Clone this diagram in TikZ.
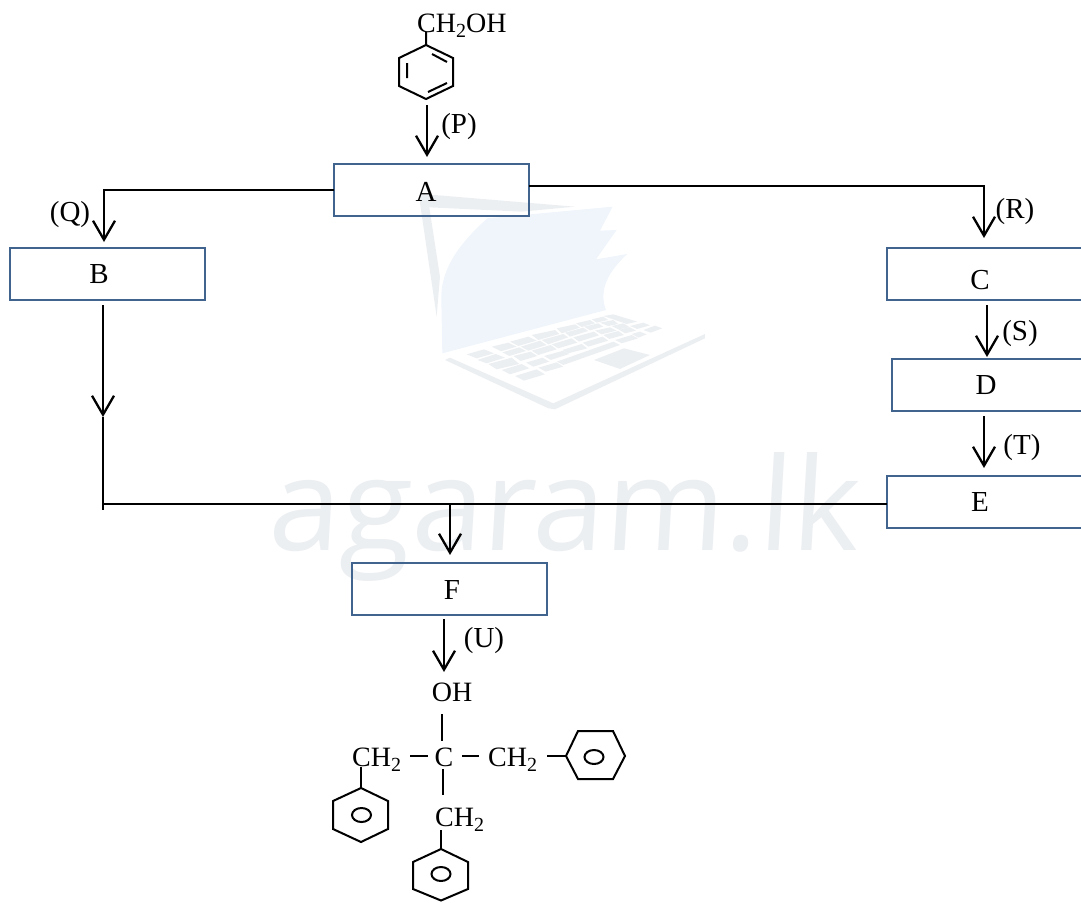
\documentclass[tikz,border=0pt]{standalone}
\usepackage{fontspec}
\setmainfont{Liberation Serif}
\newfontfamily\wmfont[FakeSlant=0.06]{Open Sans}
\usetikzlibrary{arrows.meta}
\definecolor{boxblue}{HTML}{41648F}
\definecolor{wmgray}{HTML}{ECEFF2}
\definecolor{wmblue}{HTML}{EFF5FB}
\newcommand{\subtwo}{\raisebox{-5pt}{\fontsize{20}{20}\selectfont 2}}
\tikzset{
  rxbox/.style={draw=boxblue,line width=2pt,minimum width=195pt,minimum height=52pt,inner sep=0pt,outer sep=0pt},
  lbl/.style={font=\fontsize{29}{32}\selectfont,inner sep=0pt,text=black},
  mol/.style={font=\fontsize{28}{32}\selectfont,inner sep=0pt,text=black},
  conn/.style={line width=2.3pt,draw=black},
  arr/.style={conn,-{Straight Barb[length=19pt,width=22pt,line width=2.3pt]}},
  bond/.style={line width=2pt,draw=black},
  ring/.style={line width=2pt,draw=black,line join=miter},
}
\begin{document}
\begin{tikzpicture}[x=1pt,y=-1pt]
\useasboundingbox (0,0) rectangle (1081,902);
% watermark
\node[inner sep=0pt,text=wmgray,font=\wmfont\fontsize{129}{150}\selectfont,anchor=base] (wm) at (563,550) {agaram.lk};
\begin{scope}[shift={(400,190)},x=0.3333pt,y=-0.3333pt]
\fill[wmblue] (262,85) -- (638,50) -- (600,122) -- (650,120) -- (588,208) -- (682,192) .. controls (625,245) and (595,300) .. (618,360) -- (127,490) -- (124,330) .. controls (120,230) and (190,150) .. cycle;
\fill[wmgray] (105,15) -- (525,50) -- (365,65) -- (88,52) -- (120,260) -- (110,380) -- (60,40) -- (60,15) -- cycle;
\fill[wmgray] (135,510) -- (150,503) -- (460,640) -- (915,432) -- (915,445) -- (465,658) -- (445,655) -- cycle;
\fill[wmgray] (582,510) -- (672,475) -- (750,495) -- (660,537) -- cycle;
\foreach \p in {
 {(200,493) -- (252,478) -- (282,490) -- (230,505)},
 {(275,470) -- (325,458) -- (350,470) -- (303,484)},
 {(330,455) -- (385,440) -- (410,452) -- (355,468)},
 {(395,435) -- (465,420) -- (478,432) -- (415,450)},
 {(470,415) -- (525,403) -- (540,413) -- (485,430)},
 {(528,400) -- (570,390) -- (585,400) -- (545,411)},
 {(575,388) -- (610,380) -- (625,390) -- (590,398)},
 {(610,378) -- (640,373) -- (712,395) -- (680,402)},
 {(232,510) -- (287,492) -- (315,503) -- (260,520)},
 {(307,487) -- (358,472) -- (378,483) -- (328,498)},
 {(362,470) -- (420,452) -- (440,465) -- (385,482)},
 {(425,450) -- (490,432) -- (505,442) -- (445,463)},
 {(495,428) -- (550,413) -- (565,423) -- (510,440)},
 {(552,410) -- (595,400) -- (610,410) -- (570,421)},
 {(600,398) -- (640,390) -- (655,402) -- (625,408)},
 {(265,522) -- (335,503) -- (358,522) -- (290,538)},
 {(340,498) -- (392,485) -- (412,498) -- (362,513)},
 {(395,482) -- (452,465) -- (470,478) -- (415,495)},
 {(455,463) -- (515,445) -- (532,458) -- (475,475)},
 {(520,442) -- (582,425) -- (597,436) -- (537,455)},
 {(585,422) -- (630,412) -- (650,422) -- (605,433)},
 {(635,408) -- (670,400) -- (690,412) -- (655,418)},
 {(305,540) -- (365,522) -- (388,535) -- (330,553)},
 {(378,518) -- (428,503) -- (448,515) -- (400,530)},
 {(432,498) -- (490,482) -- (508,492) -- (452,510)},
 {(487,480) -- (545,462) -- (562,475) -- (505,490)},
 {(548,458) -- (608,440) -- (625,452) -- (565,470)},
 {(610,435) -- (655,423) -- (672,435) -- (628,447)},
 {(655,418) -- (690,412) -- (708,422) -- (675,430)},
 {(690,408) -- (730,398) -- (750,406) -- (712,417)},
 {(345,558) -- (410,538) -- (435,553) -- (372,572)},
 {(415,533) -- (470,517) -- (490,530) -- (437,545)},
 {(470,515) -- (640,455) -- (660,465) -- (490,525)},
 {(645,450) -- (695,435) -- (715,445) -- (665,460)},
 {(695,432) -- (720,425) -- (740,433) -- (715,443)},
 {(730,420) -- (765,407) -- (787,415) -- (752,428)}
}{\fill[wmgray] \p -- cycle;}
\end{scope}
% boxes
\node[rxbox] (A) at (431.5,190) {};
\node[rxbox] (B) at (107.5,274) {};
\node[rxbox] (C) at (984,274) {};
\node[rxbox,minimum width=190pt] (D) at (987,385) {};
\node[rxbox] (E) at (984,502) {};
\node[rxbox] (F) at (449.5,589) {};
\node[lbl] (tA) at (426,192) {A};
\node[lbl] (tB) at (99,274) {B};
\node[lbl] (tC) at (980,280) {C};
\node[lbl] (tD) at (986,385) {D};
\node[lbl] (tE) at (980,502) {E};
\node[lbl] (tF) at (452,590) {F};
\node[lbl] (lP) at (459,127) {(P)};
\node[lbl] (lQ) at (70,215) {(Q)};
\node[lbl] (lR) at (1015,212) {(R)};
\node[lbl] (lS) at (1020,334) {(S)};
\node[lbl] (lT) at (1022,448) {(T)};
\node[lbl] (lU) at (484,641) {(U)};
% coordinates for connector ends
\coordinate (p0) at (427,105);
\coordinate (p1) at (427,157);
\coordinate (qc) at (104,190);
\coordinate (q1) at (104,242);
\coordinate (ae) at (529,186);
\coordinate (rc) at (984,186);
\coordinate (r1) at (984,238);
\coordinate (s0) at (987,305);
\coordinate (s1) at (987,357);
\coordinate (t0) at (984,416);
\coordinate (t1) at (984,468);
\coordinate (b0) at (103,305);
\coordinate (bm) at (103,417);
\coordinate (bb) at (103,510);
\coordinate (bj) at (103,504);
\coordinate (ew) at (887,504);
\coordinate (f0) at (450,504);
\coordinate (f1) at (450,555);
\coordinate (u0) at (444,619);
\coordinate (u1) at (444,672);
% connectors
\draw[arr] (p0) -- (p1);
\draw[arr] (A.west) -- (qc) -- (q1);
\draw[arr] (ae) -- (rc) -- (r1);
\draw[arr] (s0) -- (s1);
\draw[arr] (t0) -- (t1);
\draw[arr] (b0) -- (bm);
\draw[conn] (bm) -- (bb);
\draw[conn] (bj) -- (ew);
\draw[arr] (f0) -- (f1);
\draw[arr] (u0) -- (u1);
% top molecule
\node[mol,anchor=west] (m1) at (417,26) {CH\subtwo OH};
\draw[ring] (426,45) -- (453,58) -- (453,86) -- (426,99) -- (399,86) -- (399,58) -- cycle;
\draw[bond] (432,54) -- (447,62) (407,63) -- (407,78) (428,92) -- (447,83) (426,32) -- (426,45);
% bottom molecule
\node[mol] (oh) at (452,692) {OH};
\node[mol] (cc) at (444,757) {C};
\node[mol,anchor=west] (c1) at (352,760) {CH\subtwo};
\node[mol,anchor=west] (c2) at (488,760) {CH\subtwo};
\node[mol,anchor=west] (c3) at (435,820) {CH\subtwo};
\draw[bond] (442,714) -- (442,741) (443,769) -- (443,795) (410,756) -- (428,756) (462,756) -- (479,756) (547,756) -- (566,756) (361,767) -- (361,788) (441,830) -- (441,849);
\draw[ring] (361,788) -- (388,801) -- (388,829) -- (361,842) -- (333,829) -- (333,801) -- cycle;
\draw[ring] (361.5,815) ellipse (9.5pt and 7pt);
\draw[ring] (441,849) -- (468,862) -- (468,889) -- (441,900.5) -- (413,889) -- (413,862) -- cycle;
\draw[ring] (441,874) ellipse (9.5pt and 7pt);
\draw[ring] (566,756) -- (578,731) -- (613,731) -- (625,756) -- (613,779) -- (578,779) -- cycle;
\draw[ring] (594,757) ellipse (9.5pt and 7pt);
\end{tikzpicture}
\end{document}
